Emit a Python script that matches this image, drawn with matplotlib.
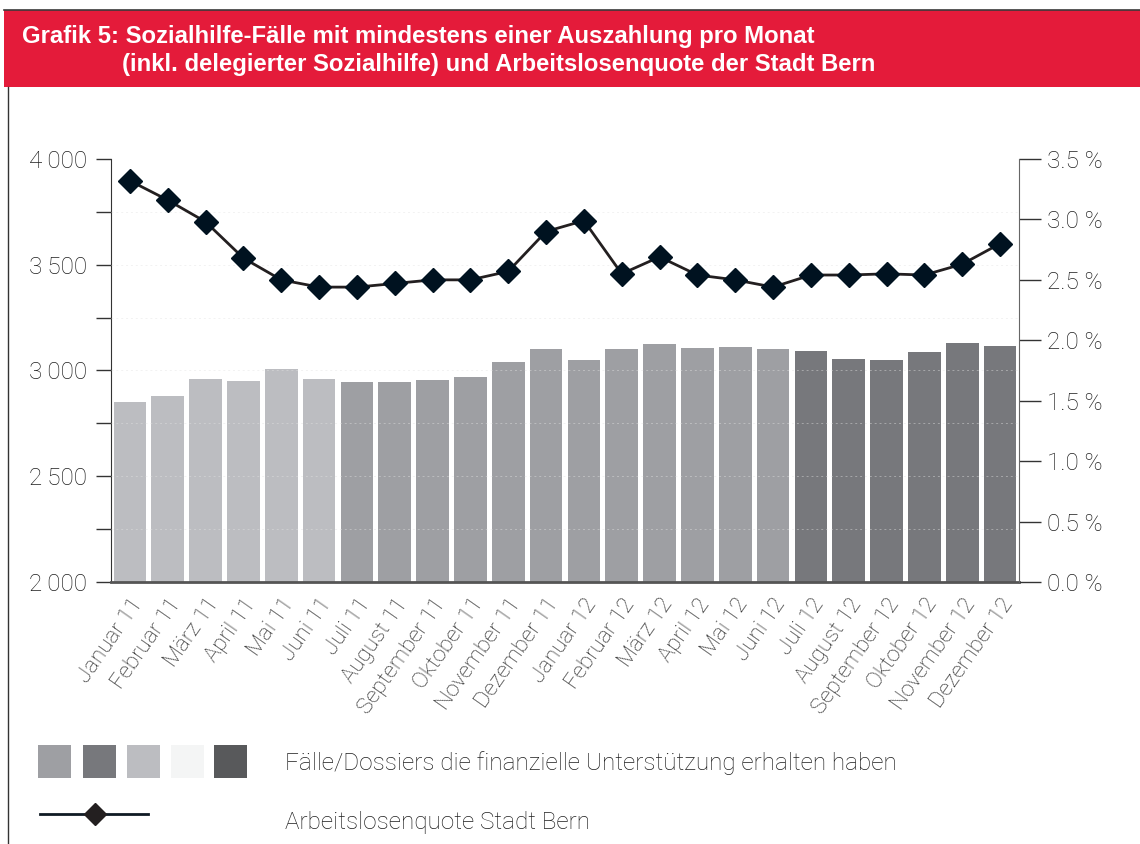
import matplotlib
matplotlib.use("Agg")
import matplotlib.pyplot as plt
import numpy as np
from matplotlib.patches import Rectangle
from matplotlib.lines import Line2D
from matplotlib.ticker import MultipleLocator, FixedLocator

months = ["Januar 11", "Februar 11", "März 11", "April 11", "Mai 11", "Juni 11",
          "Juli 11", "August 11", "September 11", "Oktober 11", "November 11", "Dezember 11",
          "Januar 12", "Februar 12", "März 12", "April 12", "Mai 12", "Juni 12",
          "Juli 12", "August 12", "September 12", "Oktober 12", "November 12", "Dezember 12"]
cases = [2850, 2879, 2959, 2950, 3006, 2959,
         2945, 2945, 2955, 2969, 3040, 3101,
         3049, 3101, 3125, 3106, 3111, 3101,
         3092, 3054, 3049, 3087, 3130, 3115]
unemployment = [3.32, 3.16, 2.98, 2.68, 2.50, 2.44,
                2.44, 2.47, 2.50, 2.50, 2.57, 2.90,
                2.99, 2.55, 2.69, 2.54, 2.50, 2.44,
                2.54, 2.54, 2.55, 2.54, 2.63, 2.80]
period = ["H1 2011"] * 6 + ["H2 2011 / H1 2012"] * 12 + ["H2 2012"] * 6
period_colors = {"H1 2011": "#bcbdc1", "H2 2011 / H1 2012": "#9e9fa3", "H2 2012": "#77787c"}
legend_colors = ["#9e9fa3", "#77787c", "#bcbdc1", "#f4f5f5", "#58595b"]
left_ticks = [2000, 2500, 3000, 3500, 4000]
right_ticks = [0.0, 0.5, 1.0, 1.5, 2.0, 2.5, 3.0, 3.5]

title1 = "Grafik 5: Sozialhilfe-Fälle mit mindestens einer Auszahlung pro Monat"
title2 = "(inkl. delegierter Sozialhilfe) und Arbeitslosenquote der Stadt Bern"
legend1 = "Fälle/Dossiers die finanzielle Unterstützung erhalten haben"
legend2 = "Arbeitslosenquote Stadt Bern"

W, H = 1140, 844
fig = plt.figure(figsize=(W / 100, H / 100), dpi=100)
fig.patch.set_facecolor("white")

def fx(x):
    return x / W

def fy(y):
    return 1 - y / H

FONT = ["Roboto", "Liberation Sans", "DejaVu Sans"]
FW = "light"
TXT = "#1e1e1e"

# banner and frame
fig.patches.append(Rectangle((fx(4), fy(87)), fx(1140 - 4), (87 - 10) / H,
                             transform=fig.transFigure, facecolor="#e41b3a",
                             edgecolor="none", zorder=0))
fig.lines.append(Line2D([fx(4), 1], [fy(9.5), fy(9.5)], transform=fig.transFigure,
                        color="#3a3a3a", lw=1.2))
fig.lines.append(Line2D([fx(8), fx(8)], [fy(87), 0], transform=fig.transFigure,
                        color="#333333", lw=1.0))
TFONT = ["Liberation Sans Narrow", "Liberation Sans", "DejaVu Sans"]
fig.text(fx(22), fy(36), title1, color="white", fontsize=17.2, fontweight="bold",
         family=TFONT, va="center")
fig.text(fx(122), fy(64), title2, color="white", fontsize=17.2, fontweight="bold",
         family=TFONT, va="center")

ax = fig.add_axes([fx(111), fy(582), fx(1019 - 111), (582 - 159) / H])
x = np.arange(len(months))
bar_cols = [period_colors[p] for p in period]
ax.bar(x, [c - 2000 for c in cases], bottom=2000, width=0.86, color=bar_cols,
       zorder=2, linewidth=0)
ax.set_xlim(-0.5, len(months) - 0.5)
ax.set_ylim(2000, 4000)
for yv in np.arange(2250, 4000, 250):
    ax.axhline(yv, color="#e2e2e2", lw=0.7, alpha=0.45, zorder=3, ls=(0, (2, 3)))
ax.yaxis.set_major_locator(FixedLocator(left_ticks))
ax.yaxis.set_minor_locator(MultipleLocator(250))
ax.set_yticklabels([f"{v // 1000}\u2009{v % 1000:03d}" for v in left_ticks],
                   family=FONT, fontweight=FW, fontsize=17.5, color=TXT)
ax.tick_params(axis="y", which="both", direction="out", length=11, width=1,
               color="#333333", pad=6)
ax.set_xticks(x)
ax.set_xticklabels(months, rotation=55, ha="right", rotation_mode="anchor",
                   family=FONT, fontweight=FW, fontsize=16, color=TXT)
ax.tick_params(axis="x", length=0, pad=9)
ax.spines["top"].set_visible(False)
ax.spines["right"].set_visible(False)
ax.spines["left"].set_color("#333333")
ax.spines["bottom"].set_color("#555555")
ax.spines["bottom"].set_linewidth(2)

ax2 = ax.twinx()
ax2.set_ylim(0, 3.5)
ax2.plot(x, unemployment, color="#231f20", lw=2, marker="D", markersize=12.5,
         markerfacecolor="#001220", markeredgecolor="#001220", zorder=5)
ax2.yaxis.set_major_locator(FixedLocator(right_ticks))
ax2.set_yticklabels([f"{v:.1f} %" for v in right_ticks], family=FONT,
                    fontweight=FW, fontsize=17.5, color=TXT)
ax2.tick_params(axis="y", direction="out", length=16, width=1, color="#333333", pad=4)
ax2.spines["top"].set_visible(False)
ax2.spines["left"].set_visible(False)
ax2.spines["bottom"].set_visible(False)
ax2.spines["right"].set_color("#666666")
ax2.set_zorder(ax.get_zorder() + 1)
ax2.patch.set_visible(False)

# legend
sq_x = [38, 83, 127, 171, 214]
for xs, col in zip(sq_x, legend_colors):
    fig.patches.append(Rectangle((fx(xs), fy(778)), 33 / W, 33 / H,
                                 transform=fig.transFigure, facecolor=col,
                                 edgecolor="none"))
fig.lines.append(Line2D([fx(40), fx(148)], [fy(814), fy(814)], transform=fig.transFigure,
                        color="#0f1a24", lw=2))
fig.lines.append(Line2D([fx(95)], [fy(814)], transform=fig.transFigure,
                        marker="D", markersize=11, color="#231f20", lw=0))
fig.text(fx(285), fy(763), legend1, family=FONT, fontweight=FW, fontsize=17.5,
         color=TXT, va="center")
fig.text(fx(285), fy(823), legend2, family=FONT, fontweight=FW, fontsize=17.5,
         color=TXT, va="center")

fig.savefig("out.png", dpi=100)
